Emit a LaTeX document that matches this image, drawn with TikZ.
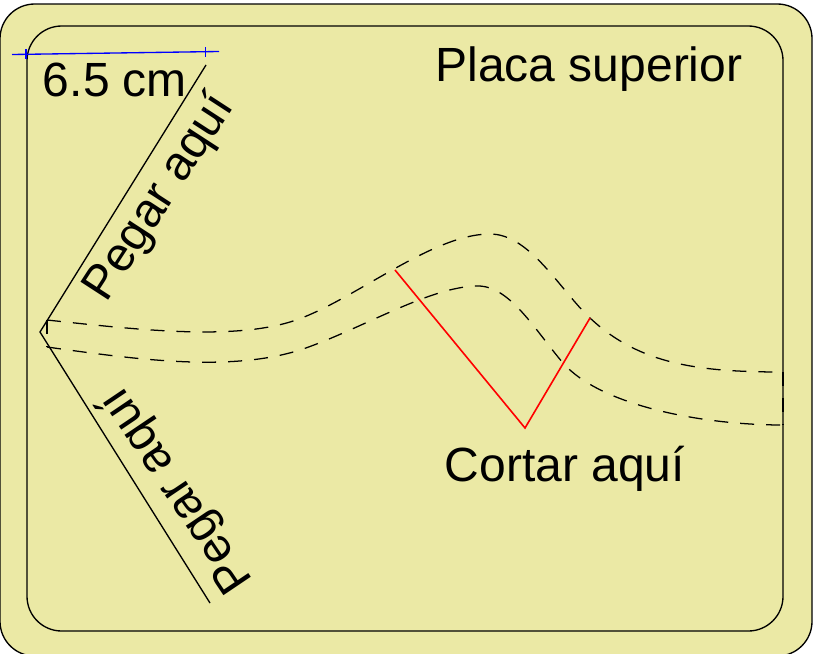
\documentclass[tikz,border=0pt]{standalone}
\usepackage{fontspec}
\setmainfont{Liberation Sans}
\definecolor{plate}{RGB}{235,233,165}
\tikzset{
  platebox/.style={draw=black,line width=1pt,rounded corners=26pt},
  label/.style={font=\fontsize{36}{40}\selectfont,inner sep=0pt,text=black},
  foldline/.style={draw=black,line width=0.95pt,dash pattern=on 10.5pt off 9pt},
  edge/.style={draw=black,line width=1pt},
  cutline/.style={draw=red,line width=1.2pt},
  measure/.style={draw=blue,line width=1pt}
}
\begin{document}
\begin{tikzpicture}[x=0.75pt,y=-0.75pt]
\useasboundingbox (0,0) rectangle (816,653);
\path[platebox,fill=plate] (0,4) rectangle (812,656);
\path[platebox,fill=plate] (27,26) rectangle (783,631);
% glue edges
\coordinate (apex) at (40,332);
\coordinate (top) at (206,65);
\coordinate (bot) at (210,603);
\draw[edge] (top) -- (apex) -- (bot);
% strip
\coordinate (a1) at (47,320);
\coordinate (a2) at (47,347);
\coordinate (b1) at (783,372);
\coordinate (b2) at (783,425);
\draw[foldline] (a1) .. controls (140,330) and (230,340) .. (290,322)
   .. controls (350,304) and (430,234) .. (490,234)
   .. controls (530,234) and (560,290) .. (590,318)
   .. controls (640,365) and (700,372) .. (b1);
\draw[foldline] (a2) .. controls (140,360) and (230,372) .. (300,350)
   .. controls (360,330) and (430,286) .. (478,286)
   .. controls (510,286) and (535,330) .. (563,363)
   .. controls (600,405) and (700,425) .. (b2);
\draw[foldline] (a1) -- (a2);
\draw[foldline] (b1) -- (b2);
% cut
\coordinate (c1) at (395,270);
\coordinate (c2) at (525,428);
\coordinate (c3) at (590,318);
\draw[cutline] (c1) -- (c2) -- (c3);
% measure
\coordinate (m1) at (12,54.5);
\coordinate (m2) at (219,51.5);
\draw[measure] (m1) -- (m2);
\draw[measure] (26,49) -- (26,59);
\draw[measure] (205.5,47) -- (205.5,57);
% texts
\node[label] (t1) at (589,69) {Placa superior};
\node[label] (t2) at (115,80) {6.5 cm};
\node[label] (t3) at (565,469) {Cortar aquí};
\node[label,rotate=57] (t4) at (160,198) {Pegar aquí};
\node[label,rotate=124] (t5) at (177,490) {Pegar aquí};
\end{tikzpicture}
\end{document}
